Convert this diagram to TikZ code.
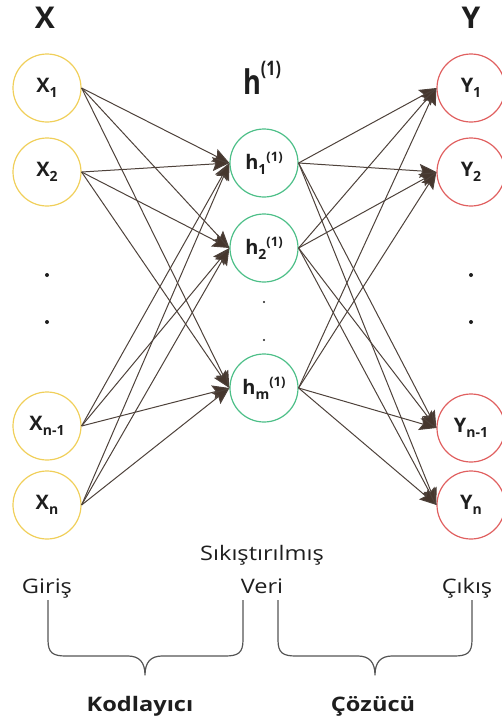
\documentclass[tikz,border=0pt]{standalone}
\usepackage{fontspec}
\setmainfont{Open Sans}
\newfontfamily\widefont[FakeStretch=1.18]{Open Sans}
\newfontfamily\narrowfont[FakeStretch=0.8]{Open Sans}
\usetikzlibrary{arrows.meta}
\definecolor{inyel}{HTML}{F0CF5A}
\definecolor{hgreen}{HTML}{4DBF88}
\definecolor{outred}{HTML}{E06060}
\definecolor{edgebrown}{HTML}{4E423B}
\definecolor{headbrown}{HTML}{46372E}
\definecolor{txt}{HTML}{1E1E1E}
\definecolor{bracegray}{HTML}{555555}
\newcommand{\lo}[1]{\raisebox{-0.4ex}{\fontsize{14}{14}\selectfont #1}}
\newcommand{\hi}[1]{\raisebox{0.8ex}{\fontsize{13}{13}\selectfont #1}}
\begin{document}
\begin{tikzpicture}[x=1pt,y=-1pt,
  neuron/.style={circle, draw, line width=1.2pt, minimum size=68pt, inner sep=0pt,
    font=\fontsize{20}{20}\selectfont\bfseries, text=txt},
  innode/.style={neuron, draw=inyel},
  hnode/.style={neuron, draw=hgreen},
  outnode/.style={neuron, draw=outred},
  conn/.style={draw=edgebrown, line width=1pt,
    -{Stealth[length=17pt,width=14pt,inset=3pt,fill=headbrown]}},
  heading/.style={font=\fontsize{30}{30}\selectfont\bfseries, text=txt},
  lbl/.style={font=\widefont\fontsize{20}{20}\selectfont, text=txt, anchor=base},
  blbl/.style={font=\widefont\fontsize{20}{20}\selectfont\bfseries, text=txt, anchor=base},
  bigdot/.style={circle, fill=txt, inner sep=0pt, minimum size=4pt},
  smalldot/.style={circle, fill=txt, inner sep=0pt, minimum size=2.4pt},
  brace/.style={draw=bracegray, line width=1.2pt, line join=round}
]
\useasboundingbox (0,0) rectangle (502,726);

% headings
\node[heading] (hx) at (45,18) {X};
\node[heading] (hy) at (471,18) {Y};
\node[font=\narrowfont\fontsize{34}{34}\selectfont\bfseries, text=txt] (hh) at (262,78)
  {h\raisebox{1.0ex}{\fontsize{20}{20}\selectfont(1)}};

% input nodes
\node[innode] (x1) at (47,88) {X\lo{1}};
\node[innode] (x2) at (47,172) {X\lo{2}};
\node[innode] (x3) at (47,426) {X\lo{n-1}};
\node[innode] (x4) at (47,505) {X\lo{n}};

% hidden nodes
\node[hnode] (h1) at (264,163) {h\lo{1}\hi{(1)}};
\node[hnode] (h2) at (264,248) {h\lo{2}\hi{(1)}};
\node[hnode] (h3) at (264,388) {h\lo{m}\hi{(1)}};

% output nodes
\node[outnode] (y1) at (471,88) {Y\lo{1}};
\node[outnode] (y2) at (471,172) {Y\lo{2}};
\node[outnode] (y3) at (471,428) {Y\lo{n-1}};
\node[outnode] (y4) at (471,505) {Y\lo{n}};

% dots
\node[bigdot] (dl1) at (47,275) {};
\node[bigdot] (dl2) at (47,322) {};
\node[bigdot] (dr1) at (471,275) {};
\node[bigdot] (dr2) at (471,322) {};
\node[smalldot] (dm1) at (264,302) {};
\node[smalldot] (dm2) at (264,340) {};

% connections
\foreach \i in {x1,x2,x3,x4}
  \foreach \j in {h1,h2,h3}
    \draw[conn] (\i.east) -- (\j.west);
\foreach \i in {h1,h2,h3}
  \foreach \j in {y1,y2,y3,y4}
    \draw[conn] (\i.east) -- (\j.west);

% labels
\node[lbl] (giris) at (47,593) {Giriş};
\node[lbl] (sik) at (262,560) {Sıkıştırılmış};
\node[lbl] (veri) at (262,593) {Veri};
\node[lbl] (cikis) at (467,593) {Çıkış};

% braces
\draw[brace] (48,600) -- (48,640) .. controls (48,653) and (53,656) .. (66,656)
  -- (128,656) .. controls (139,656) and (145,662) .. (145,675)
  .. controls (145,662) and (151,656) .. (162,656)
  -- (225,656) .. controls (238,656) and (243,653) .. (243,640) -- (243,600);
\draw[brace] (278,600) -- (278,640) .. controls (278,653) and (283,656) .. (296,656)
  -- (358,656) .. controls (369,656) and (375,662) .. (375,675)
  .. controls (375,662) and (381,656) .. (392,656)
  -- (454,656) .. controls (467,656) and (472,653) .. (472,640) -- (472,600);

\node[blbl] (kod) at (140,711) {Kodlayıcı};
\node[blbl] (coz) at (373,711) {Çözücü};
\end{tikzpicture}
\end{document}
